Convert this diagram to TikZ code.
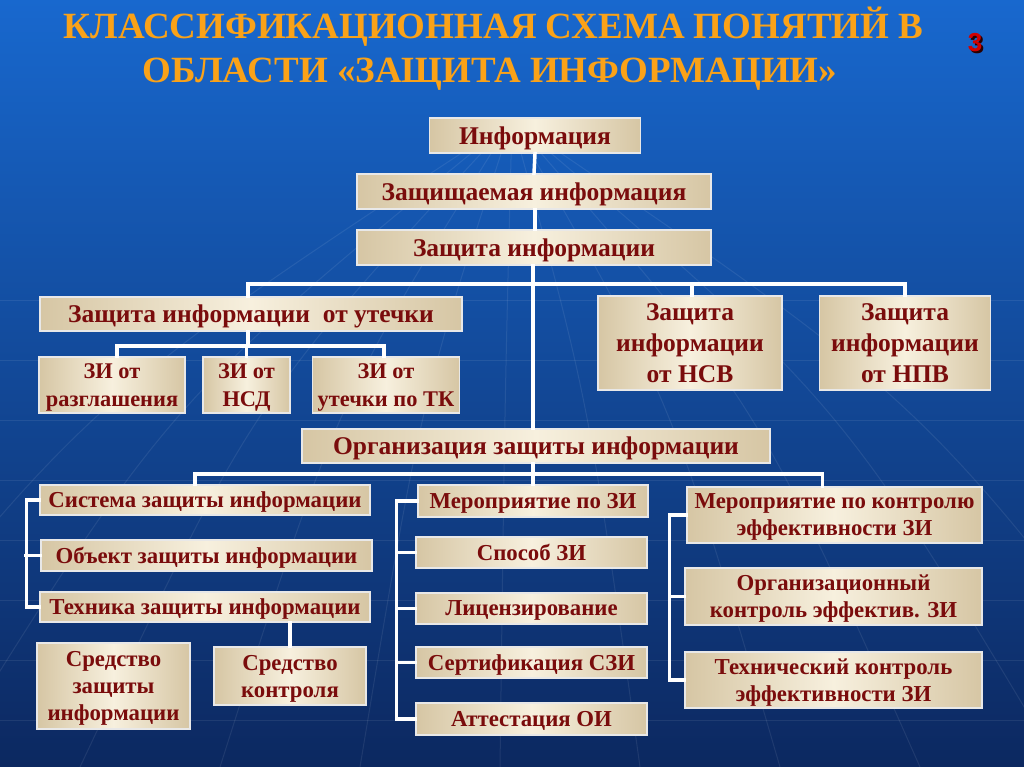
\documentclass[tikz,border=0pt]{standalone}
\usepackage{fontspec}
\setmainfont{Liberation Serif}
\newfontfamily\numfont{Liberation Sans}
\usetikzlibrary{calc}
\definecolor{bgtop}{RGB}{24,104,206}
\definecolor{bgbot}{RGB}{12,40,96}
\definecolor{titleor}{RGB}{250,162,24}
\definecolor{dred}{RGB}{122,12,12}
\definecolor{tan}{RGB}{214,198,164}
\definecolor{cream}{RGB}{247,240,222}
\definecolor{rimc}{RGB}{232,232,232}
\definecolor{numred}{RGB}{210,0,0}
\tikzset{
  bx/.style 2 args={draw=rimc, line width=1.4pt, left color=tan, right color=tan,
     middle color=cream, text=dred, align=center, inner sep=0pt, text depth=0pt,
     minimum width=#1pt, minimum height=#2pt},
  lower/.style={text depth=-6pt},
  fA/.style={font=\fontsize{25.5}{30}\bfseries\selectfont},
  fB/.style={font=\fontsize{25.5}{31}\bfseries\selectfont},
  fD/.style={font=\fontsize{22.4}{28}\bfseries\selectfont},
  fC/.style={font=\fontsize{22.8}{27}\bfseries\selectfont},
  link/.style={draw=white, line width=3.5pt, line cap=rect},
  ttl/.style={text=titleor, font=\fontsize{37}{44}\bfseries\selectfont, anchor=base, inner sep=0pt},
}
\begin{document}
\begin{tikzpicture}[x=1pt,y=-1pt]
\useasboundingbox (0,0) rectangle (1024,767);
\shade[top color=bgtop, bottom color=bgbot] (0,0) rectangle (1024,767);
% faint globe lines
\begin{scope}[draw=white, opacity=0.08, line width=1pt]
  \foreach \yy in {300,360,420,480,540,600,660,720} \draw (0,\yy) -- (1024,\yy);
  \foreach \xx in {-200,-60,80,220,360,500,640,780,920,1060,1200}
    \draw (512,120) .. controls ({512+(\xx-512)*0.6},400) .. (\xx,767);
\end{scope}
% title
\node[ttl] (title1) at (493.5,39) {КЛАССИФИКАЦИОННАЯ СХЕМА ПОНЯТИЙ В};
\node[ttl] (title2) at (490,83) {ОБЛАСТИ «ЗАЩИТА ИНФОРМАЦИИ»};
\node[text=black!80!numred, font=\numfont\fontsize{26}{28}\bfseries\selectfont] at (977,45) {3};
\node[text=numred, font=\numfont\fontsize{26}{28}\bfseries\selectfont] (num) at (975,43) {3};
% top chain
\node[bx={211}{35}, fA] (info) at (535,135.5) {Информация};
\node[bx={354}{35}, fA] (prot) at (534,191.5) {Защищаемая информация};
\node[bx={354}{35}, fA] (zi) at (534,247.5) {Защита информации};
% second level
\node[bx={422}{34}, fB] (leak) at (251,314) {Защита информации\ \ от утечки};
\node[bx={184}{94}, fB] (nsv) at (690,343) {Защита\\информации\\от НСВ};
\node[bx={171}{94}, fB] (npv) at (905,343) {Защита\\информации\\от НПВ};
\node[bx={146}{56}, fD, lower] (d1) at (112,385) {ЗИ от\\разглашения};
\node[bx={87}{56}, fD, lower] (d2) at (246.5,385) {ЗИ от\\НСД};
\node[bx={147}{56}, fD, lower] (d3) at (386,385) {ЗИ от\\утечки по ТК};
% organisation
\node[bx={468}{34}, fB] (org) at (536,446) {Организация защиты информации};
% left column
\node[bx={330}{30}, fC] (sys) at (205,500) {Система защиты информации};
\node[bx={331}{31}, fC] (obj) at (206.5,555.5) {Объект защиты информации};
\node[bx={330}{30}, fC] (tech) at (205,607) {Техника защиты информации};
\node[bx={153}{86}, fC, lower] (sz) at (113.5,686) {Средство\\защиты\\информации};
\node[bx={152}{58}, fC] (sk) at (290,676) {Средство\\контроля};
% middle column
\node[bx={230}{32}, fC] (m1) at (533,501) {Мероприятие по ЗИ};
\node[bx={231}{31}, fC] (m2) at (531.5,552.5) {Способ ЗИ};
\node[bx={231}{31}, fC] (m3) at (531.5,608.5) {Лицензирование};
\node[bx={231}{31}, fC] (m4) at (531.5,662.5) {Сертификация СЗИ};
\node[bx={231}{32}, fC] (m5) at (531.5,719) {Аттестация ОИ};
% right column
\node[bx={295}{56}, fC] (r1) at (834.5,515) {Мероприятие по контролю\\эффективности ЗИ};
\node[bx={297}{57}, fC] (r2) at (833.5,596.5) {Организационный\\контроль эффектив. ЗИ};
\node[bx={297}{56}, fC] (r3) at (833.5,680) {Технический контроль\\эффективности ЗИ};
% connectors
\coordinate (b1) at (533,284);
\coordinate (b2) at (248,346);
\coordinate (b3) at (533,474);
\draw[link] (info.south) -- (prot.north);
\draw[link] (prot.south -| info.south) -- (zi.north -| info.south);
\draw[link] (zi.south -| b1) -- (org.north -| b1);
\draw[link] ($(leak.north)+(-3,0)$) |- (b1) -| ($(nsv.north)+(2,0)$);
\draw[link] (b1) -| (npv.north);
\draw[link] ($(leak.south)+(-3,0)$) -- (b2);
\draw[link] ($(d1.north)+(5,0)$) |- (b2) -| ($(d3.north)+(-2,0)$);
\draw[link] (d2.north) -- (d2.north |- b2);
\draw[link] (org.south -| b3) -- (b3);
\draw[link] ($(sys.north)+(-10,0)$) |- (b3) -| ($(r1.north)+(-12,0)$);
\draw[link] (m1.north) -- (m1.north |- b3);
\draw[link] (sys.west) -- ++(-13,0) |- (tech.west);
\draw[link] (obj.west) -- ++(-14.5,0);
\draw[link] ($(sz.north)+(7,0)$) -- ($(sz.north)+(7,0)$ |- tech.south);
\draw[link] (sk.north) -- (sk.north |- tech.south);
\draw[link] (m1.west) -- ++(-21,0) |- (m5.west);
\draw[link] (m2.west) -- ++(-19,0);
\draw[link] (m3.west) -- ++(-19,0);
\draw[link] (m4.west) -- ++(-19,0);
\draw[link] (r1.west) -- ++(-17,0) |- (r3.west);
\draw[link] (r2.west) -- ++(-15,0);
\end{tikzpicture}
\end{document}
